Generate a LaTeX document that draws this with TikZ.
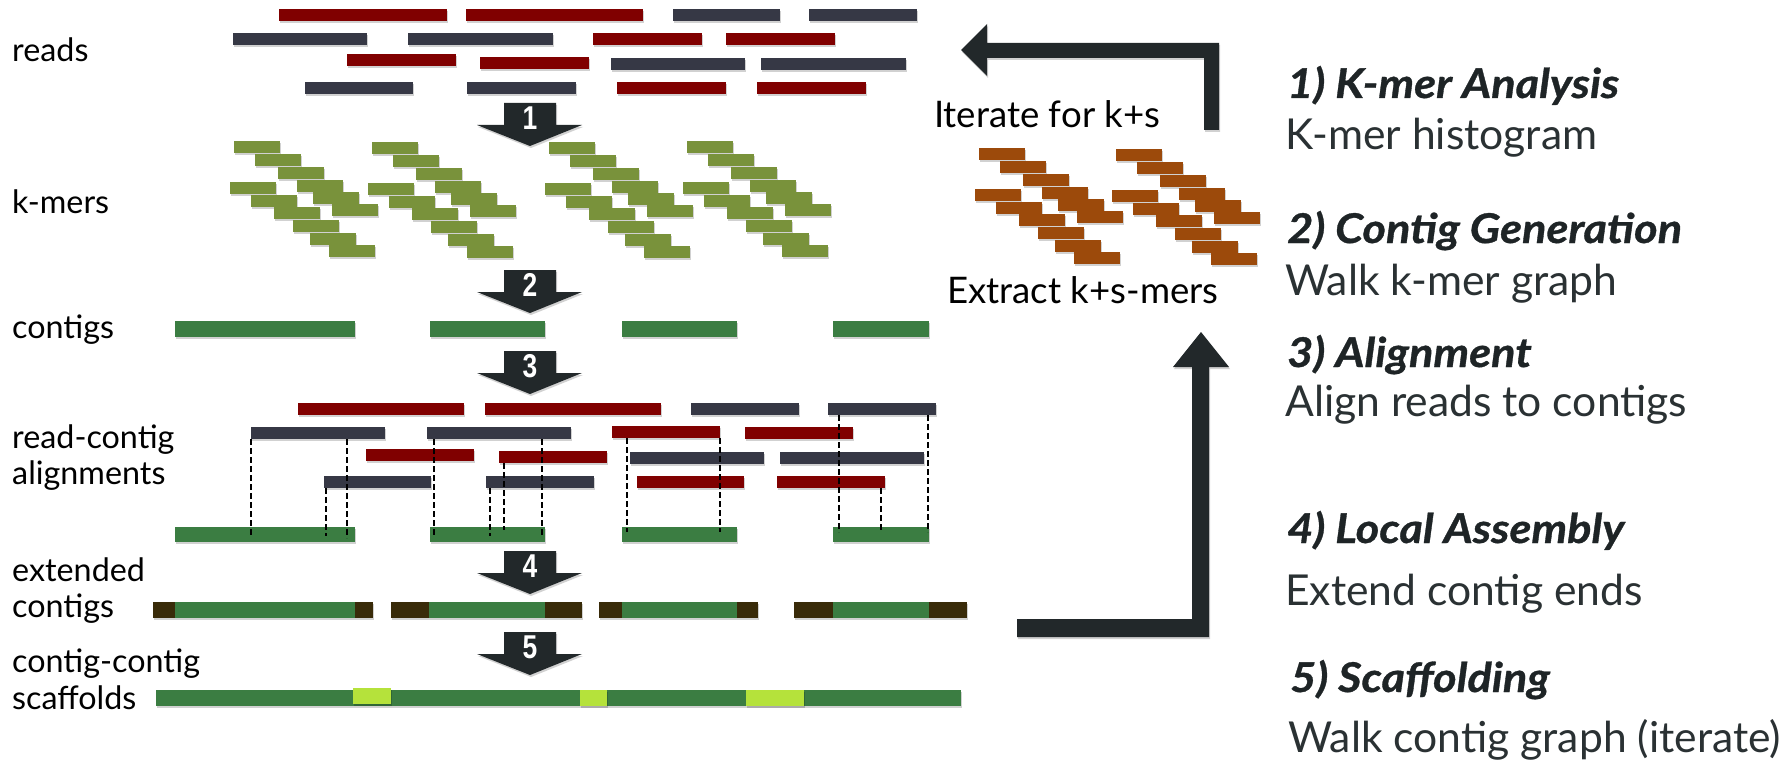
\documentclass[tikz,border=0pt]{standalone}
\usepackage{fontspec}
\setmainfont{Lato}
\newfontfamily\numfont[FakeStretch=0.8]{Liberation Sans}
\newfontfamily\hdrfont[FakeStretch=1.1,FakeBold=0.8]{Lato}
\usetikzlibrary{shadows}
\definecolor{readred}{RGB}{128,0,0}
\definecolor{readdark}{RGB}{54,56,69}
\definecolor{kmer}{RGB}{121,146,59}
\definecolor{ksmer}{RGB}{156,74,11}
\definecolor{contig}{RGB}{59,125,66}
\definecolor{extbrown}{RGB}{57,43,9}
\definecolor{gapgreen}{RGB}{181,226,59}
\definecolor{arrowdark}{RGB}{34,40,42}
\definecolor{hdrtxt}{RGB}{30,36,38}
\definecolor{bodytxt}{RGB}{42,49,51}
\newcommand\rbar[5]{\fill[#5,barshadow] (#1,#2) rectangle (#3,#4);}
\newcommand\kgroup[3]{%
  \foreach \dx/\dy in {0/0,21/13,44/26,63/39,79/51,98/63,-4/41,17/54,40/66,59/79,76/92,95/104}
  {\fill[#3,barshadow] ({#1+\dx},{#2+\dy}) rectangle ({#1+\dx+46},{#2+\dy+12});}}
\newcommand\steparrow[2]{%
  \fill[arrowdark,barshadow] (504,#1) -- (556,#1) -- (556,#1+22) -- (582,#1+22)
    -- (530,#1+43) -- (477,#1+22) -- (504,#1+22) -- cycle;
  \node[numtxt] (num#2) at (530,#1+15) {#2};}
\begin{document}
\begin{tikzpicture}[x=1pt,y=-1pt,
  barshadow/.style={drop shadow={shadow xshift=1pt,shadow yshift=-2pt,opacity=0.18,fill=black}},
  numtxt/.style={text=white,font=\numfont\bfseries\fontsize{33}{33}\selectfont,inner sep=0pt},
  lbl/.style={anchor=base west,inner sep=0pt,text=black,font=\fontsize{32.3}{38}\selectfont},
  hdr/.style={anchor=base west,inner sep=0pt,text=hdrtxt,font=\hdrfont\fontsize{41}{48}\selectfont\bfseries\itshape},
  body/.style={anchor=base west,inner sep=0pt,text=bodytxt,font=\fontsize{42.6}{48}\selectfont},
  midtxt/.style={anchor=base west,inner sep=0pt,text=black,font=\fontsize{36.6}{42}\selectfont},
  aligndash/.style={draw=black,line width=1.3pt,dash pattern=on 6pt off 3pt}]
\useasboundingbox[fill=white] (0,0) rectangle (1787,762);

% ---- reads
\rbar{279}{9}{447}{21}{readred}
\rbar{466}{9}{643}{21}{readred}
\rbar{673}{9}{780}{21}{readdark}
\rbar{809}{9}{917}{21}{readdark}
\rbar{233}{33}{367}{45}{readdark}
\rbar{408}{33}{553}{45}{readdark}
\rbar{593}{33}{702}{45}{readred}
\rbar{726}{33}{835}{45}{readred}
\rbar{347}{54}{456}{66}{readred}
\rbar{480}{57}{589}{69}{readred}
\rbar{611}{58}{745}{70}{readdark}
\rbar{761}{58}{906}{70}{readdark}
\rbar{305}{82}{413}{94}{readdark}
\rbar{467}{82}{576}{94}{readdark}
\rbar{617}{82}{726}{94}{readred}
\rbar{757}{82}{866}{94}{readred}

% ---- k-mers
\kgroup{234}{141}{kmer}
\kgroup{372}{142}{kmer}
\kgroup{549}{142}{kmer}
\kgroup{687}{141}{kmer}

% ---- contigs
\rbar{175}{321}{355}{337}{contig}
\rbar{430}{321}{545}{337}{contig}
\rbar{622}{321}{737}{337}{contig}
\rbar{833}{321}{929}{337}{contig}

% ---- read-contig alignments
\rbar{298}{403}{464}{415}{readred}
\rbar{485}{403}{661}{415}{readred}
\rbar{691}{403}{799}{415}{readdark}
\rbar{828}{403}{936}{415}{readdark}
\rbar{251}{427}{385}{439}{readdark}
\rbar{427}{427}{571}{439}{readdark}
\rbar{612}{426}{720}{438}{readred}
\rbar{745}{427}{853}{439}{readred}
\rbar{366}{449}{474}{461}{readred}
\rbar{499}{451}{607}{463}{readred}
\rbar{630}{452}{764}{464}{readdark}
\rbar{780}{452}{924}{464}{readdark}
\rbar{324}{476}{431}{488}{readdark}
\rbar{486}{476}{594}{488}{readdark}
\rbar{637}{476}{744}{488}{readred}
\rbar{777}{476}{885}{488}{readred}
\rbar{175}{527}{355}{542}{contig}
\rbar{430}{527}{545}{542}{contig}
\rbar{622}{527}{737}{542}{contig}
\rbar{833}{527}{929}{542}{contig}
\foreach \xx/\ya/\yb in {251/439/536,347/439/538,326/488/536,434/439/536,490/488/536,504/463/530,542/439/537,627/438/532,720/438/532,839/415/532,928/415/532,881/488/532}
  {\draw[aligndash] (\xx,\ya) -- (\xx,\yb);}

% ---- extended contigs
\rbar{153}{602}{373}{618}{extbrown}
\fill[contig] (175,602) rectangle (355,618);
\rbar{391}{602}{582}{618}{extbrown}
\fill[contig] (429,602) rectangle (545,618);
\rbar{599}{602}{758}{618}{extbrown}
\fill[contig] (622,602) rectangle (737,618);
\rbar{794}{602}{967}{618}{extbrown}
\fill[contig] (833,602) rectangle (929,618);

% ---- scaffolds
\rbar{156}{690}{961}{706}{contig}
\rbar{353}{688}{391}{704}{gapgreen}
\rbar{580}{690}{607}{706}{gapgreen}
\rbar{746}{690}{804}{706}{gapgreen}

% ---- step arrows
\steparrow{103}{1}
\steparrow{270}{2}
\steparrow{351}{3}
\steparrow{551}{4}
\steparrow{632}{5}

% ---- left labels
\node[lbl] (lreads) at (12,62) {reads};
\node[lbl] (lkmers) at (12,213) {k-mers};
\node[lbl] (lcontigs) at (12,338) {contigs};
\node[lbl] (lrc) at (12,448) {read-contig};
\node[lbl] (lal) at (12,484) {alignments};
\node[lbl] (lext) at (12,581) {extended};
\node[lbl] (lextc) at (12,617) {contigs};
\node[lbl] (lcc) at (12,672) {contig-contig};
\node[lbl] (lsc) at (12,709) {scaffolds};

% ---- iteration loop
\kgroup{979}{148}{ksmer}
\kgroup{1116}{149}{ksmer}
\node[midtxt] (iter) at (934,128) {Iterate for k+s};
\node[midtxt] (extr) at (947,303) {Extract k+s-mers};
\fill[arrowdark,barshadow] (961,50) -- (987,24) -- (987,43) -- (1219,43) -- (1219,130)
  -- (1204,130) -- (1204,58) -- (987,58) -- (987,76) -- cycle;
\fill[arrowdark,barshadow] (1017,619) -- (1192,619) -- (1192,367) -- (1173,367) -- (1201,332)
  -- (1229,367) -- (1209,367) -- (1209,637) -- (1017,637) -- cycle;

% ---- right column
\node[hdr] (h1) at (1287,98) {1) K-mer Analysis};
\node[body] (b1) at (1285,150) {K-mer histogram};
\node[hdr] (h2) at (1287,243) {2) Contig Generation};
\node[body] (b2) at (1285,295) {Walk k-mer graph};
\node[hdr] (h3) at (1287,367) {3) Alignment};
\node[body] (b3) at (1285,416) {Align reads to contigs};
\node[hdr] (h4) at (1287,543) {4) Local Assembly};
\node[body] (b4) at (1285,605) {Extend contig ends};
\node[hdr] (h5) at (1290,692) {5) Scaffolding};
\node[body] (b5) at (1288,752) {Walk contig graph (iterate)};
\end{tikzpicture}
\end{document}
